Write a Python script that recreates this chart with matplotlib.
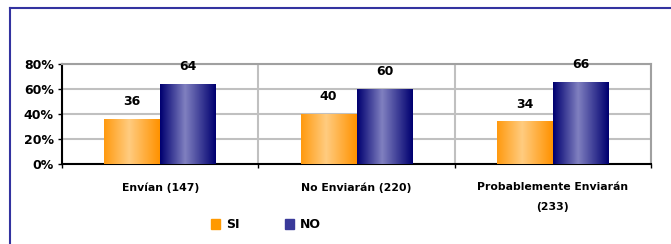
import numpy as np
import matplotlib
matplotlib.use("Agg")
import matplotlib.pyplot as plt
from matplotlib.colors import LinearSegmentedColormap
from matplotlib.patches import Rectangle
from matplotlib.lines import Line2D

# Datos
categorias = ["Envían (147)", "No Enviarán (220)", "Probablemente Enviarán\n(233)"]
si = [36, 40, 34]
no = [64, 60, 66]
series = ["SI", "NO"]

ORANGE = "#FF9900"
NAVY = "#000080"
cm_si = LinearSegmentedColormap.from_list("si", [(0, "#FF9A10"), (0.45, "#FFCC80"), (1, "#FF9200")])
cm_no = LinearSegmentedColormap.from_list("no", [(0, "#000070"), (0.45, "#8080C0"), (1, "#000070")])

plt.rcParams["font.family"] = "DejaVu Sans"
fig = plt.figure(figsize=(6.71, 2.44), dpi=100)
ax = fig.add_axes([62 / 671, 1 - 164 / 244, 589 / 671, 100 / 244])

x = np.arange(len(categorias))
w = 0.285
b_si = ax.bar(x - w / 2, si, w, color=ORANGE, zorder=3)
b_no = ax.bar(x + w / 2, no, w, color=NAVY, zorder=3)

grad = np.linspace(0, 1, 100).reshape(1, -1)
for bars, cm in ((b_si, cm_si), (b_no, cm_no)):
    for bar in bars:
        bx, by = bar.get_x(), bar.get_y()
        bw, bh = bar.get_width(), bar.get_height()
        im = ax.imshow(grad, extent=[bx, bx + bw, by, by + bh], aspect="auto",
                       cmap=cm, zorder=4, interpolation="bilinear")
        im.set_clip_path(bar)

for bars, vals in ((b_si, si), (b_no, no)):
    for bar, v in zip(bars, vals):
        ax.text(bar.get_x() + bar.get_width() / 2, v + 14, f"{v}",
                ha="center", va="center", fontsize=9, fontweight="bold", zorder=5,
                clip_on=False)

ax.set_xlim(-0.5, 2.5)
ax.set_ylim(0, 80)
ax.set_yticks([0, 20, 40, 60, 80])
ax.set_yticklabels(["0%", "20%", "40%", "60%", "80%"], fontsize=9, fontweight="bold")
ax.set_xticks(x)
ax.set_xticklabels(categorias, fontsize=7.8, fontweight="bold", linespacing=2.2)
ax.set_xticks([-0.5, 0.5, 1.5, 2.5], minor=True)
ax.tick_params(axis="x", which="major", length=0, pad=13)
ax.tick_params(axis="x", which="minor", length=3, width=1, direction="out")
ax.tick_params(axis="y", length=3, width=1, direction="out", pad=3)

ax.grid(axis="y", color="#C0C0C0", linewidth=1.5, zorder=0)
ax.grid(axis="x", which="minor", color="#C0C0C0", linewidth=1.5, zorder=0)
ax.set_axisbelow(True)
for s in ("top", "right"):
    ax.spines[s].set_color("#A0A0A0")
    ax.spines[s].set_linewidth(1.5)
for s in ("left", "bottom"):
    ax.spines[s].set_color("black")
    ax.spines[s].set_linewidth(1.5)

handles = [Rectangle((0, 0), 1, 1, color=ORANGE), Rectangle((0, 0), 1, 1, color="#3A3A9A")]
fig.legend(handles, series, loc="center", bbox_to_anchor=(266 / 671, 1 - 225 / 244),
           ncol=2, frameon=False, prop={"size": 9, "weight": "bold"},
           handlelength=0.7, handleheight=0.8, columnspacing=3.6, handletextpad=0.5)

# borde azul del recuadro
fig.add_artist(Line2D([10 / 671, 1.0], [1 - 8 / 244, 1 - 8 / 244], color="#3333A0", linewidth=1.5,
                      transform=fig.transFigure))
fig.add_artist(Line2D([10 / 671, 10 / 671], [0, 1 - 8 / 244], color="#3333A0", linewidth=1.5,
                      transform=fig.transFigure))

fig.savefig("out.png", dpi=100)
